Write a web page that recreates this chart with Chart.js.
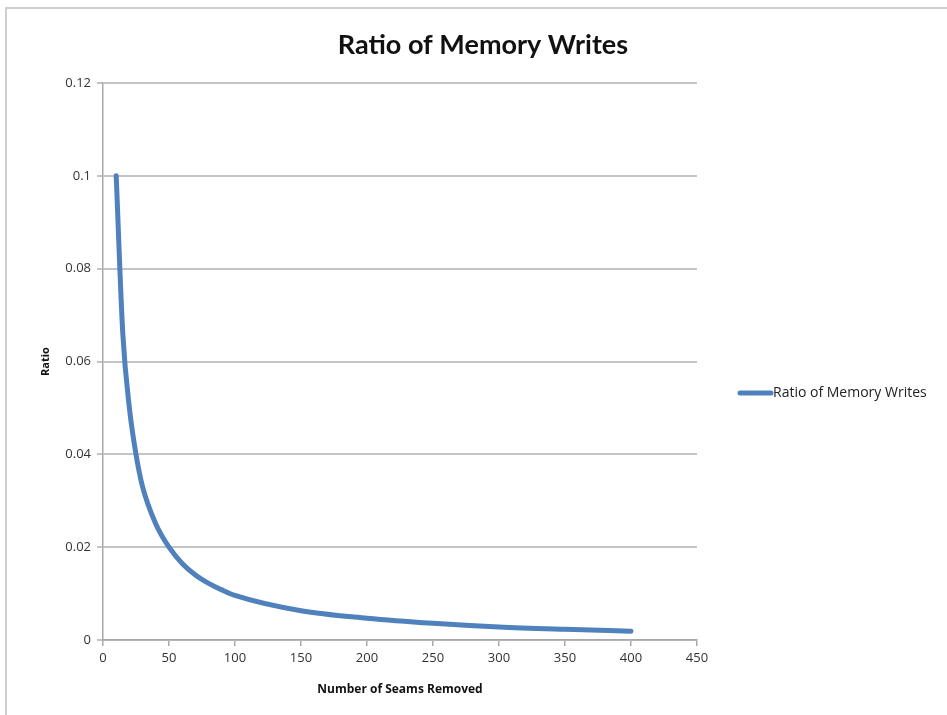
<!DOCTYPE html>
<html>
<head>
<meta charset="utf-8">
<script src="https://cdn.jsdelivr.net/npm/chart.js@4.4.0/dist/chart.umd.min.js"></script>
<style>
  html, body { margin: 0; padding: 0; background: #fff; overflow: hidden; }
  #wrap { position: relative; width: 947px; height: 715px; }
  #frame { position: absolute; left: 5px; top: 7px; width: 960px; height: 720px;
           border: 2px solid #cfcfcf; box-sizing: border-box; }
  canvas { position: absolute; left: 0; top: 0; }
</style>
</head>
<body>
<div id="wrap">
  <div id="frame"></div>
  <canvas id="chart" width="947" height="715"></canvas>
</div>
<script>
// values
var seams = [10, 15, 20, 25, 30, 40, 50, 60, 70, 80, 90, 100, 150, 200, 250, 300, 350, 400];
var ratio = [0.1, 0.066, 0.05, 0.04, 0.033, 0.025, 0.02, 0.0165, 0.014, 0.0122, 0.0108, 0.0096, 0.0063, 0.0047, 0.0036, 0.0028, 0.0023, 0.0019];
var xTicks = [0, 50, 100, 150, 200, 250, 300, 350, 400, 450];
var yTicks = [0, 0.02, 0.04, 0.06, 0.08, 0.1, 0.12];
var chartTitle = 'Ratio of Memory Writes';

var lineColor = 'rgb(79,129,189)';

var points = seams.map(function (s, i) { return { x: s, y: ratio[i] }; });

// title + legend drawn where Excel put them
var extras = {
  id: 'extras',
  afterDraw: function (chart) {
    var c = chart.ctx;
    var ds = chart.data.datasets[0];
    c.save();
    c.fillStyle = '#111';
    c.font = 'bold 27px Lato';
    c.textAlign = 'center';
    c.textBaseline = 'middle';
    c.fillText(chartTitle, 483, 45);

    c.strokeStyle = ds.borderColor;
    c.lineWidth = 5;
    c.lineCap = 'round';
    c.beginPath();
    c.moveTo(740, 393);
    c.lineTo(771, 393);
    c.stroke();
    c.fillStyle = '#222';
    c.font = '14px "Open Sans"';
    c.textAlign = 'left';
    c.fillText(ds.label, 773, 393);
    c.restore();
  }
};

var chart = new Chart('chart', {
  type: 'scatter',
  data: {
    datasets: [{
      label: 'Ratio of Memory Writes',
      data: points,
      showLine: true,
      borderColor: lineColor,
      backgroundColor: lineColor,
      borderWidth: 5,
      borderCapStyle: 'round',
      pointRadius: 0,
      cubicInterpolationMode: 'monotone'
    }]
  },
  options: {
    responsive: false,
    animation: false,
    layout: { padding: { left: 35, right: 250, top: 83, bottom: 14 } },
    plugins: {
      legend: { display: false },
      tooltip: { enabled: false },
      title: { display: false }
    },
    scales: {
      x: {
        type: 'linear',
        min: 0,
        max: 450,
        afterBuildTicks: function (s) { s.ticks = xTicks.map(function (v) { return { value: v }; }); },
        afterFit: function (s) { s.height = 61; },
        ticks: { color: '#333', font: { family: 'Open Sans', size: 13 }, padding: 4 },
        grid: { drawOnChartArea: false, drawTicks: true, tickLength: 6, color: '#a8a8a8', lineWidth: 1.5 },
        border: { color: '#a8a8a8', width: 1.5 },
        title: {
          display: true,
          text: 'Number of Seams Removed',
          color: '#111',
          font: { family: 'Open Sans', size: 12, weight: 'bold' },
          padding: { top: 6 }
        }
      },
      y: {
        min: 0,
        max: 0.12,
        afterBuildTicks: function (s) { s.ticks = yTicks.map(function (v) { return { value: v }; }); },
        afterFit: function (s) { s.width = 68; },
        ticks: {
          color: '#333',
          font: { family: 'Open Sans', size: 13 },
          padding: 6,
          callback: function (v) { return String(+v.toFixed(2)); }
        },
        grid: { color: '#c4c4c4', lineWidth: 2, tickLength: 6 },
        border: { color: '#a8a8a8', width: 1.5 },
        title: {
          display: true,
          text: 'Ratio',
          color: '#111',
          font: { family: 'Open Sans', size: 11, weight: 'bold' },
          padding: { bottom: 4 }
        }
      }
    }
  },
  plugins: [extras]
});
</script>
</body>
</html>
